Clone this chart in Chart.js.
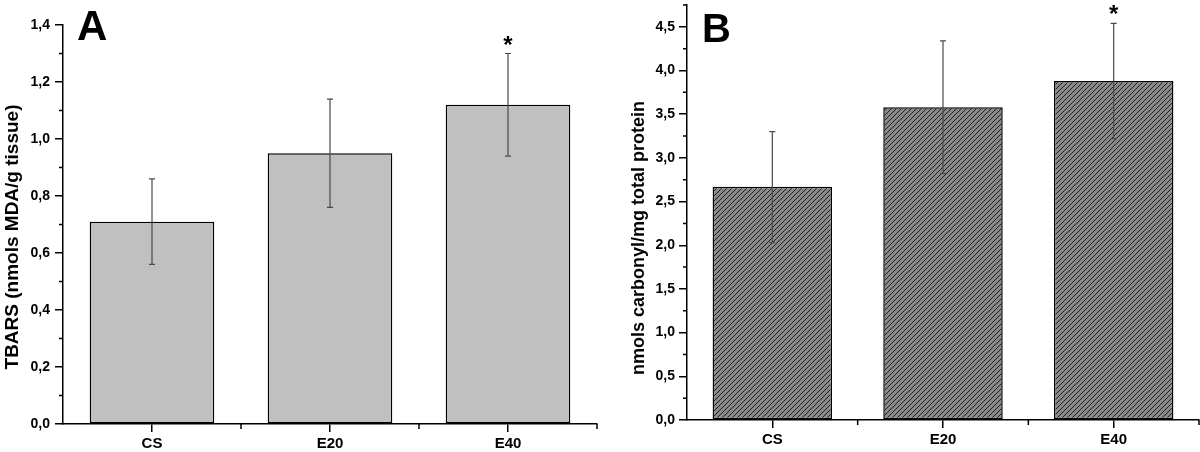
<!DOCTYPE html>
<html>
<head>
<meta charset="utf-8">
<script src="https://cdn.jsdelivr.net/npm/chart.js@4"></script>
<style>
  html, body { margin: 0; padding: 0; background: #fff; }
  .row { display: flex; width: 1200px; height: 452px; }
  canvas { display: block; }
</style>
</head>
<body>
<div class="row">
  <canvas id="chartA" width="600" height="452"></canvas>
  <canvas id="chartB" width="600" height="452"></canvas>
</div>
<script>
const groups = ['CS', 'E20', 'E40'];

// Panel A - TBARS
const tbarsMean = [0.71, 0.95, 1.12];
const tbarsLow = [0.56, 0.76, 0.94];
const tbarsHigh = [0.86, 1.14, 1.30];
const tbarsStars = ['', '', '*'];

// Panel B - carbonyl
const carbonylMean = [2.67, 3.58, 3.88];
const carbonylLow = [2.03, 2.82, 3.22];
const carbonylHigh = [3.30, 4.34, 4.54];
const carbonylStars = ['', '', '*'];

const FONT = 'Liberation Sans, Arial, sans-serif';

function makeHatch() {
  const tile = document.createElement('canvas');
  tile.width = 5;
  tile.height = 5;
  const t = tile.getContext('2d');
  t.fillStyle = '#8a8a8a';
  t.fillRect(0, 0, 5, 5);
  t.strokeStyle = '#1e1e1e';
  t.lineWidth = 1;
  t.beginPath();
  t.moveTo(0, 5); t.lineTo(5, 0);
  t.moveTo(-1, 1); t.lineTo(1, -1);
  t.moveTo(4, 6); t.lineTo(6, 4);
  t.stroke();
  return t.createPattern(tile, 'repeat');
}

// error bars, minor ticks, stars, panel letter, axis title
const panelExtras = {
  id: 'panelExtras',
  afterDatasetsDraw(chart, args, opts) {
    const ctx = chart.ctx;
    const y = chart.scales.y;
    const meta = chart.getDatasetMeta(0);
    ctx.save();
    ctx.strokeStyle = '#4a4a4a';
    ctx.lineWidth = 1.2;
    meta.data.forEach((bar, i) => {
      const yl = y.getPixelForValue(opts.low[i]);
      const yh = y.getPixelForValue(opts.high[i]);
      ctx.beginPath();
      ctx.moveTo(bar.x, yl); ctx.lineTo(bar.x, yh);
      ctx.moveTo(bar.x - 3, yl); ctx.lineTo(bar.x + 3, yl);
      ctx.moveTo(bar.x - 3, yh); ctx.lineTo(bar.x + 3, yh);
      ctx.stroke();
    });
    ctx.restore();
  },
  afterDraw(chart, args, opts) {
    const ctx = chart.ctx;
    const x = chart.scales.x;
    const y = chart.scales.y;
    const area = chart.chartArea;
    ctx.save();
    ctx.strokeStyle = '#000';
    ctx.lineWidth = 1.5;

    // minor y ticks
    ctx.beginPath();
    for (let k = 1; k * opts.minorStep <= y.max + 1e-9; k += 2) {
      const py = y.getPixelForValue(k * opts.minorStep);
      ctx.moveTo(area.left - 4, py);
      ctx.lineTo(area.left, py);
    }
    // x ticks between categories
    for (let i = 1; i <= groups.length; i++) {
      const px = x.getPixelForValue(i - 0.5);
      ctx.moveTo(px, area.bottom);
      ctx.lineTo(px, area.bottom + 5);
    }
    ctx.stroke();

    // significance stars
    const meta = chart.getDatasetMeta(0);
    ctx.fillStyle = '#000';
    ctx.textAlign = 'center';
    ctx.textBaseline = 'alphabetic';
    ctx.font = 'bold 24px ' + FONT;
    meta.data.forEach((bar, i) => {
      if (!opts.stars[i]) return;
      const cy = y.getPixelForValue(opts.high[i]) - 15;
      ctx.fillText(opts.stars[i], bar.x, cy + 14);
    });

    // panel letter
    ctx.textAlign = 'left';
    ctx.font = 'bold ' + opts.letterSize + 'px ' + FONT;
    ctx.fillText(opts.letter, opts.letterX, opts.letterY);

    // y axis title
    ctx.translate(opts.titleX, opts.titleY);
    ctx.rotate(-Math.PI / 2);
    ctx.textAlign = 'center';
    ctx.textBaseline = 'middle';
    ctx.font = 'bold ' + opts.titleSize + 'px ' + FONT;
    ctx.fillText(opts.title, 0, 0);
    ctx.restore();
  }
};

function createPanel(canvas, cfg) {
  return new Chart(canvas, {
    type: 'bar',
    data: {
      labels: groups,
      datasets: [{
        data: cfg.values,
        backgroundColor: cfg.fill,
        borderColor: '#000',
        borderWidth: 1.5,
        borderSkipped: false,
        barPercentage: 0.7,
        categoryPercentage: 1.0
      }]
    },
    options: {
      responsive: false,
      animation: false,
      devicePixelRatio: 1,
      layout: { padding: cfg.padding },
      plugins: {
        legend: { display: false },
        tooltip: { enabled: false },
        panelExtras: cfg.extras
      },
      scales: {
        x: {
          offset: true,
          afterFit: s => { s.height = 28; },
          border: { display: true, color: '#000', width: 1.5 },
          grid: { display: true, drawOnChartArea: false, offset: false, tickLength: 8, color: '#000', lineWidth: 1.5 },
          ticks: { padding: 3, color: '#000', font: { family: FONT, weight: 'bold', size: 15 } }
        },
        y: {
          min: 0,
          max: cfg.max,
          afterFit: s => {
            s.width = cfg.axisWidth;
            s.paddingTop = 0;
            s.paddingBottom = 0;
          },
          // keep only ticks on the major step (drop the forced max tick)
          afterBuildTicks: s => {
            s.ticks = s.ticks.filter(t => Math.abs(t.value / cfg.step - Math.round(t.value / cfg.step)) < 1e-6);
          },
          border: { display: true, color: '#000', width: 1.5 },
          grid: { display: true, drawOnChartArea: false, tickLength: 8, color: '#000', lineWidth: 1.5 },
          ticks: {
            stepSize: cfg.step,
            padding: cfg.tickPad,
            color: '#000',
            font: { family: FONT, weight: 'bold', size: 14 },
            callback: v => v.toFixed(1).replace('.', ',')
          }
        }
      }
    },
    plugins: [panelExtras]
  });
}

createPanel(document.getElementById('chartA'), {
  values: tbarsMean,
  fill: '#c0c0c0',
  max: 1.4,
  step: 0.2,
  axisWidth: 63,
  tickPad: 5,
  padding: { left: 0, right: 3, top: 25, bottom: 0 },
  extras: {
    low: tbarsLow, high: tbarsHigh, stars: tbarsStars, minorStep: 0.1,
    letter: 'A', letterSize: 42, letterX: 77, letterY: 40,
    title: 'TBARS (nmols MDA/g tissue)', titleSize: 19, titleX: 13, titleY: 237
  }
});

createPanel(document.getElementById('chartB'), {
  values: carbonylMean,
  fill: makeHatch(),
  max: 4.75,
  step: 0.5,
  axisWidth: 87,
  tickPad: 4,
  padding: { left: 0, right: 1, top: 5, bottom: 4 },
  extras: {
    low: carbonylLow, high: carbonylHigh, stars: carbonylStars, minorStep: 0.25,
    letter: 'B', letterSize: 40, letterX: 102, letterY: 42,
    title: 'nmols carbonyl/mg total protein', titleSize: 18, titleX: 39, titleY: 238
  }
});
</script>
</body>
</html>
